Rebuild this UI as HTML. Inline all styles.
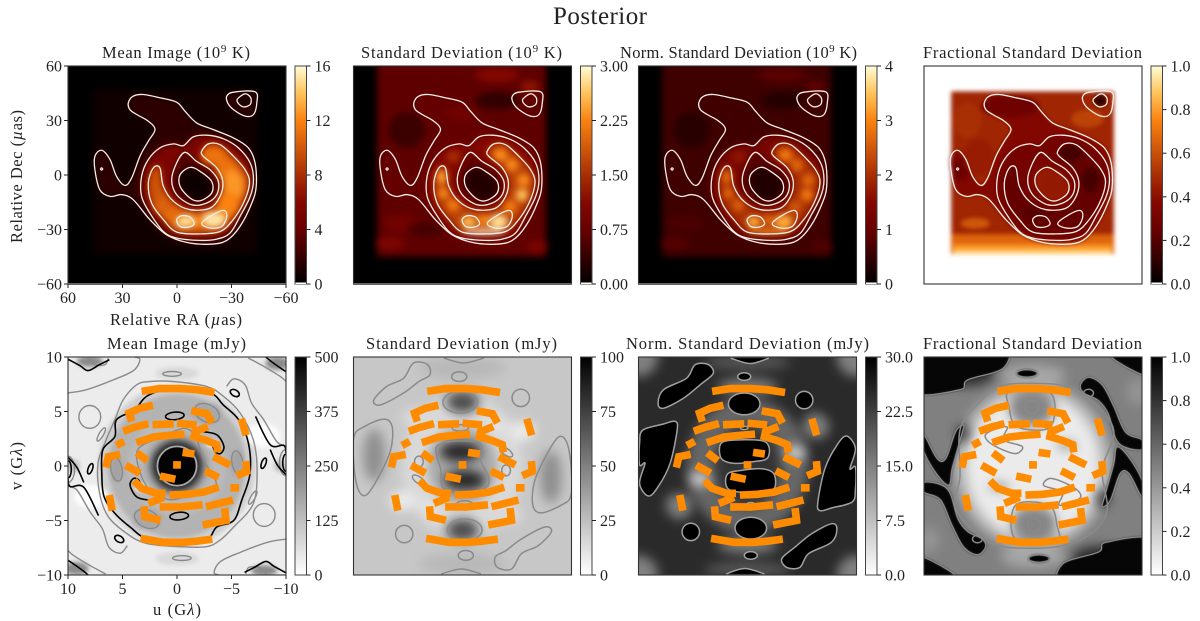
<!DOCTYPE html>
<html lang="en">
<head>
<meta charset="utf-8">
<title>Posterior</title>
<style>
html,body{margin:0;padding:0;background:#fff;}
svg{display:block;font-family:"Liberation Serif",serif;fill:#222;}
text{fill:#222;}
</style>
</head>
<body>
<svg id="figure" xmlns="http://www.w3.org/2000/svg" width="1200" height="621" viewBox="0 0 1200 621">
<defs id="defs">
<filter id="b1" filterUnits="userSpaceOnUse" x="0" y="0" width="1200" height="621" color-interpolation-filters="sRGB"><feGaussianBlur stdDeviation="1"/></filter>
<filter id="b2" filterUnits="userSpaceOnUse" x="0" y="0" width="1200" height="621" color-interpolation-filters="sRGB"><feGaussianBlur stdDeviation="2"/></filter>
<filter id="b3" filterUnits="userSpaceOnUse" x="0" y="0" width="1200" height="621" color-interpolation-filters="sRGB"><feGaussianBlur stdDeviation="3.4"/></filter>
<filter id="b5" filterUnits="userSpaceOnUse" x="0" y="0" width="1200" height="621" color-interpolation-filters="sRGB"><feGaussianBlur stdDeviation="5.5"/></filter>
</defs>
<text x="600" y="24" text-anchor="middle" font-size="25" textLength="94">Posterior</text>
<text x="102" y="58" font-size="16.5" textLength="148">Mean Image (10<tspan font-size="11" dy="-6">9</tspan><tspan dy="6"> K)</tspan></text>
<text x="361" y="58" font-size="16.5" textLength="201">Standard Deviation (10<tspan font-size="11" dy="-6">9</tspan><tspan dy="6"> K)</tspan></text>
<text x="620" y="58" font-size="16.5" textLength="237">Norm. Standard Deviation (10<tspan font-size="11" dy="-6">9</tspan><tspan dy="6"> K)</tspan></text>
<text x="923" y="58" font-size="16.5" textLength="219">Fractional Standard Deviation</text>
<text x="107" y="349" font-size="16.5" textLength="139">Mean Image (mJy)</text>
<text x="366" y="349" font-size="16.5" textLength="191">Standard Deviation (mJy)</text>
<text x="626" y="349" font-size="16.5" textLength="243">Norm. Standard Deviation (mJy)</text>
<text x="923" y="349" font-size="16.5" textLength="219">Fractional Standard Deviation</text>
<text x="110" y="325" font-size="16.5" textLength="132">Relative RA (<tspan font-style="italic">µ</tspan>as)</text>
<text transform="translate(22,243) rotate(-90)" font-size="16.5" textLength="133">Relative Dec (<tspan font-style="italic">µ</tspan>as)</text>
<text x="153" y="615" font-size="16.5" textLength="48">u (G<tspan font-style="italic">λ</tspan>)</text>
<text transform="translate(22,490) rotate(-90)" font-size="16.5" textLength="48">v (G<tspan font-style="italic">λ</tspan>)</text>
</svg>
<script>
/* ---------- axis tick data ---------- */
const imageTicks = [60, 30, 0, -30, -60];
const visibilityTicks = [10, 5, 0, -5, -10];
const colorbarMax = [16, 3, 4, 1, 500, 100, 30, 1];
const colorbarValues = [
  [0, 4, 8, 12, 16], [0, 0.75, 1.5, 2.25, 3], [0, 1, 2, 3, 4], [0, 0.2, 0.4, 0.6, 0.8, 1],
  [0, 125, 250, 375, 500], [0, 25, 50, 75, 100], [0, 7.5, 15, 22.5, 30], [0, 0.2, 0.4, 0.6, 0.8, 1]
];
const colorbarLabels = [
  ['0', '4', '8', '12', '16'], ['0.00', '0.75', '1.50', '2.25', '3.00'], ['0', '1', '2', '3', '4'], ['0.0', '0.2', '0.4', '0.6', '0.8', '1.0'],
  ['0', '125', '250', '375', '500'], ['0', '25', '50', '75', '100'], ['0.0', '7.5', '15.0', '22.5', '30.0'], ['0.0', '0.2', '0.4', '0.6', '0.8', '1.0']
];

/* ---------- image-domain contours (µas) ---------- */
const contourA = [[26.8,39.7],[24.1,43.4],[18.6,44.3],[9.4,42.5],[0.2,40.1],[-4.4,35.1],[-10.8,28.7],[-20,25],[-31.1,20.4],[-39.3,14.9],[-43,6.6],[-43.6,-6.3],[-41.2,-15.4],[-34.7,-28.3],[-27.4,-36],[-18.2,-38.1],[-5.3,-37.1],[5.7,-32.9],[14.9,-24.6],[24.1,-13.6],[30.5,-10.8],[36.9,-11.8],[42.5,-8.1],[45.2,2.9],[45.2,10.3],[41.5,13.6],[36.9,8.5],[33.3,-0.7],[28.7,-5.7],[25,-1.7],[20.4,10.3],[15.8,18.6],[12.1,25],[15.8,29.6],[22.2,33.3],[25.9,36]];
const contourB = [[-3.5,16.2],[2,17.1],[9.4,14.9],[15.8,8.5],[19.5,-0.7],[19.5,-11.8],[14.9,-21],[7.5,-31.1],[0.2,-34.7],[-12.7,-36],[-21.9,-35.3],[-29.2,-32],[-34.7,-22.8],[-40.3,-11.8],[-42.1,-2.6],[-40.3,6.6],[-33.8,14.9],[-25.6,19.9],[-16.4,21.9],[-9,21]];
const contourC = [[-13.6,13.1],[-17.3,17.1],[-23.7,16.7],[-31.1,10.3],[-37.5,2.9],[-39.9,-4.4],[-36.6,-15.4],[-30.1,-25.6],[-23.7,-31.1],[-12.7,-32.4],[0.2,-31.4],[7.5,-24.6],[14,-15.4],[15.8,-4.4],[13,3.9],[9.4,3.9],[7.5,-6.3],[2,-14.5],[-7.2,-19.1],[-18.2,-18.2],[-23.7,-11.8],[-25.2,-3.5],[-21.9,3.9],[-14.5,10.3]];
const contourD = [[-4.4,12.5],[-10.8,7.5],[-18.2,2.9],[-22.8,-3.5],[-21.9,-10.8],[-16.4,-15.4],[-8.1,-16.4],[0.2,-10.8],[2.9,-2.6],[0.2,6.6]];
const contourE = [[-7.2,4.2],[-12.7,2],[-19.1,-3.5],[-19.1,-9.9],[-12.7,-14.2],[-7.2,-12.7],[-1.7,-6.3],[-1.7,0.2]];
const contourF = [[0.2,-24.6],[-2.6,-22.4],[-7.2,-23.2],[-9.4,-26.8],[-6.3,-28.7],[-1.7,-28.3]];
const contourG = [[-13.6,-26.8],[-18.2,-22.8],[-25.6,-19.5],[-27.4,-22.8],[-24.6,-28.3],[-18.2,-29.2]];
const contourH = [[-27.4,43.4],[-31.1,45.6],[-43,45.8],[-43.9,39.7],[-42.1,33.3],[-37.5,32.4],[-31.1,36],[-27.9,39.7]];
const contourI = [[-33.3,41.9],[-37.5,44.7],[-40.6,42.5],[-40.3,38.8],[-36.6,37.5],[-33.5,39.7]];
const contourJ = [[42.1,3.3],[41.5,3.9],[40.9,3.3],[41.5,2.7]];
const imageContours = [contourA, contourB, contourC, contourD, contourE, contourF, contourG, contourH, contourI, contourJ];

/* ---------- image-domain intensity layers: [contour, value] ---------- */
const meanLevels = [[contourA,1.7],[contourB,5.3],[contourC,9.8],[contourD,3],[contourE,0.5],[contourH,1.8],[contourI,1]];
const stdLevels = [[contourA,0.72],[contourB,1.1],[contourC,1.65],[contourD,0.7],[contourE,0.25]];
const normLevels = [[contourA,0.62],[contourB,1.25],[contourC,2.0],[contourD,0.8],[contourE,0.3]];
const fracLevels = [[contourA,0.36],[contourB,0.3],[contourC,0.24],[contourD,0.33],[contourE,0.44]];

/* boxes: [xLeft, xRight, yTop, yBottom, value] */
const meanBoxes = [[46,-44,47,-43,0.6]];
const stdBoxes = [[47,-46,60,-45,0.68]];
const normBoxes = [[47,-46,60,-45,0.6]];
const fracBoxes = [[45,-44.5,46,-43.5,0.47],[45,-44.5,-32.5,-43.5,0.66],[44,-43.5,-38,-43.5,0.78],[44,-43.5,-41,-43.5,0.9]];

/* blobs: [x, y, rx, ry, value] */
const meanBlobs = [[-20,10.3,7,5,11.3],[-27,3,6,6,11.3],[-31,-6,6,9,12.6],[-28,-16,6,7,12],[-20,-24.6,7,4.5,15.2],[-12,-26,3,3,12],[-4.4,-25.5,6,3.8,14.8],[3,-22,5,4,11],[8.5,-17,5,5,10.5],[12,-8,3,7,9.8]];
const stdBlobs = [[-20.8,11,4,3.5,2.3],[-27.2,5.5,3.5,3.5,2.3],[-33.6,-2.8,3.5,3.5,2.3],[-32.7,-11,3.5,3.5,2.6],[-26.3,-17.5,3.5,3.5,2.2],[-19.9,-25.7,5,4,2.8],[-3.3,-25.7,4,3,2.6],[-11.6,-24.8,3,3,2.3],[5,-16.5,3.5,3.5,2.2],[10.5,-10,3,3,2.3],[11.4,-1,3,4,2.4],[5,10,4,3,1.5],[-11.6,-31.3,12,1.4,3],[-19,55,12,4,1.1],[-37,48.7,5,3,1.25],[-19,41,12,5,0.35],[30.7,24.8,10,10,0.42],[1,34,8,4,0.85],[40,-37.7,8,4,1],[-41,-39.5,6,4,0.95],[34,-26.6,10,5,0.85],[20,-30,10,4,0.5]];
const normBlobs = [[-20.8,11,4,3.5,2.9],[-27.2,5.5,3.5,3.5,2.7],[-33.6,-2.8,3.5,3.5,2.7],[-32.7,-11,3.5,3.5,2.9],[-26.3,-17.5,3.5,3.5,2.5],[-19.9,-25.7,5,4,3.3],[-3.3,-25.7,4,3,3.3],[-11.6,-24.8,3,3,2.7],[5,-16.5,3.5,3.5,2.6],[10.5,-10,3,3,2.7],[11.4,-1,3,4,2.7],[5,10,4,3,1.7],[-11.6,-31.3,12,1.4,3.2],[-19,55,14,4,0.85],[-37,48.7,5,3,0.95],[-19,41,12,5,0.35],[30.7,24.8,10,10,0.38],[40,-37.7,8,4,0.8],[-41,-39.5,6,4,0.75],[34,-26.6,10,5,0.7]];
const fracBlobs = [[-20.6,12,6,5,0.17],[-31.6,-2.8,5,7,0.17],[0,-21,6,4,0.21],[-13,-28.5,8,3,0.25],[10.7,-8,5,6,0.24],[12.5,37.7,16,6,0.28],[-11.4,-4.6,7,7,0.43],[-37,41,3.5,3,0.1],[40,3,5,6,0.27],[31.8,-26.6,8,3,0.62],[-30,31,9,5,0.56],[30,10,8,10,0.44],[36,30,8,10,0.5]];

/* ---------- visibility-domain (Gλ) ---------- */
const uvTrack01 = [[2.9,6.9],[1.6,7.1],[-0.3,7.1],[-1.8,7],[-3.1,6.8]];
const uvTrack02 = [[3,-6.7],[1.25,-7],[-0.6,-7],[-1.8,-6.9],[-2.9,-6.75]];
const uvTrack03 = [[4.26,4.4],[4.4,4.85],[3.4,5.3],[2.55,5.5]];
const uvTrack04 = [[4.6,3.3],[3.9,3.55],[2.95,3.8]];
const uvTrack05 = [[1.9,3.8],[0.65,3.85]];
const uvTrack06 = [[-0.35,3.9],[-1.45,3.8]];
const uvTrack07 = [[3.4,2.25],[2.2,2.65],[0.95,2.8],[-0.35,2.9]];
const uvTrack08 = [[-2.5,3.5],[-1.65,3.15],[-1.55,2.7],[-2.7,2.35],[-3.65,1.95],[-3.7,1.6]];
const uvTrack09 = [[-1.65,5],[-2.75,4.8],[-3.05,4.25]];
const uvTrack10 = [[-6,4],[-6.25,3.15]];
const uvTrack11 = [[5.25,2.05],[5.15,2.1]];
const uvTrack12 = [[6.45,0.2],[6.3,0.85],[5.55,1]];
const uvTrack13 = [[3.4,1],[3,0.7]];
const uvTrack14 = [[4.4,-0.1],[3.7,-0.5]];
const uvTrack15 = [[1.2,-1],[0.5,-1.15]];
const uvTrack16 = [[0.01,0.1],[-0.01,0.1]];
const uvTrack17 = [[-0.85,1.2],[-1.25,1.15]];
const uvTrack18 = [[-3.65,0.7],[-4.55,0.25]];
const uvTrack19 = [[-2.9,-0.6],[-3.5,-0.9]];
const uvTrack20 = [[-5.8,-0.75],[-6.4,-0.5],[-6.35,0.1]];
const uvTrack21 = [[-5.25,-2],[-5.35,-2]];
const uvTrack22 = [[3.7,-1.6],[3.25,-2.05],[1.9,-2.5],[1.4,-2.5]];
const uvTrack23 = [[2.3,-3.3],[1.55,-3]];
const uvTrack24 = [[0.35,-2.65],[-0.9,-2.6],[-2.4,-2.4],[-3.5,-2.05]];
const uvTrack25 = [[1.25,-3.75],[0.2,-3.75]];
const uvTrack26 = [[-0.45,-3.75],[-2,-3.6]];
const uvTrack27 = [[-3,-3.65],[-4.8,-3.2]];
const uvTrack28 = [[-4.4,-4.2],[-4.5,-5],[-2.7,-5.35]];
const uvTrack29 = [[3,-4.05],[2.95,-4.65],[1.85,-4.9]];
const uvTrack30 = [[6.15,-3],[6,-3.75]];
const uvTracks = [uvTrack01,uvTrack02,uvTrack03,uvTrack04,uvTrack05,uvTrack06,uvTrack07,uvTrack08,uvTrack09,uvTrack10,uvTrack11,uvTrack12,uvTrack13,uvTrack14,uvTrack15,uvTrack16,uvTrack17,uvTrack18,uvTrack19,uvTrack20,uvTrack21,uvTrack22,uvTrack23,uvTrack24,uvTrack25,uvTrack26,uvTrack27,uvTrack28,uvTrack29,uvTrack30];

/* Panel 5: mean amplitude */
const meanVisBase = 38;
const meanVisBlobs = [[0,0,7.2,7.4,95],[0,0,6.3,6.6,150],[0,0,4.5,4.6,135],[0,0,3.1,3.1,165],[0,0,2.6,2.6,270],[0,0,2.2,2.2,400],[-2.75,4.85,1.4,1,170],[-5.55,0.3,0.6,1.2,180],[7.9,-2.8,1.6,1.1,6],[-3.3,2,0.6,0.3,0],[0,8.5,2,0.6,75],[9.5,0,0.6,0.6,120],[8,9.6,1.2,0.5,230],[9.2,-9.4,1.1,0.6,230]];
const meanBlackLoop = [[2.6,6.5],[3.9,5.15],[5.55,4.25],[5.7,2.7],[6.8,1.5],[6.9,-0.7],[6.7,-2.8],[5.7,-4.35],[4.3,-5.6],[2.8,-6.65],[0,-7],[-2.7,-6.75],[-3.65,-5.6],[-5.2,-5],[-5.95,-3.1],[-6.7,-0.7],[-6.55,2.1],[-5.65,4.25],[-4.25,5.6],[-3.1,6.7],[-0.3,7.3]];
const meanGrayLoop = [[3.7,7.45],[4.95,6.05],[5.7,4.25],[6.5,2.4],[7.25,0.25],[7.1,-2.5],[6.3,-4.65],[4.6,-6.2],[2.8,-7.1],[-0.3,-7.4],[-2.7,-7.4],[-3.95,-6.8],[-5.2,-5.6],[-7,-3.45],[-7.35,-0.35],[-7,2.4],[-5.8,4.85],[-4.25,6.4],[-2.7,7.3],[0.35,7.75],[2.5,7.75]];
const meanDiamondLoop = [[3.6,1.5],[1.5,2.6],[-0.6,3.45],[-1.7,2.7],[-2.45,0.55],[-3.6,-1.8],[-1.5,-2.5],[0.6,-3.1],[2.45,-2.2],[3.35,-0.7]];
const meanKidneyLoop = [[-2.45,3.15],[-3.67,2.85],[-4.3,1.8],[-4,1.15],[-3.5,1.3],[-3.2,1.9],[-2.3,2.4]];
const meanGrayEllipses = [[8,4.5,1,1.05,0],[-2.75,4.85,1.2,0.8,25],[0.45,8.45,0.85,0.22,0],[6.95,2.9,0.7,0.2,-60],[-5.55,0.3,0.5,1.1,-10],[-10,0.3,0.6,1.2,0]];
const meanBlackEllipses = [[0.2,4.6,0.85,0.35,-5],[-5.3,6.7,0.45,0.28,30],[-7.95,0.25,0.5,0.2,-70],[-10,0.3,0.3,0.8,0]];
const meanGrayOpen = [
  [[10,6.7],[8.3,7],[5.85,7.9],[4,8.75],[3.4,9.75],[3.85,10]],
  [[-6.55,9.9],[-7.95,9.15],[-9.5,8.2],[-10,7.75]],
  [[-4.55,7.3],[-5.2,8],[-6.25,7.45],[-6.85,5.75],[-7.95,4.25],[-9.15,2.25],[-10,1.8]],
  [[8.2,9.9],[7.6,9.3],[6.6,9.3],[6.3,9.9]]
];
const meanBlackOpen = [
  [[-7.2,4.55],[-8.55,1.95],[-9.8,1.9],[-10,1.2]],
  [[-10,-0.8],[-9.2,0.1],[-8.55,1.5]],
  [[10,9.8],[8.9,9.2],[8.15,8.75],[7.1,9.3],[6.2,9.75]],
  [[10,-8.65],[8.9,-9.4],[8.15,-10]]
];

/* Panel 6: standard deviation */
const stdVisBase = 22;
const stdVisBlobs = [[0,0,5.6,6.6,15],[0,0,3.2,3.6,34],[0.2,1.3,1.9,0.9,85],[0,5.85,1.5,1,70],[8.1,1,1,2.4,44],[5.5,-3.2,1.2,0.9,8],[3.2,-3.8,0.9,0.5,9],[0,9,4,1,28],[4.5,4.5,1,0.8,14]];
const stdVisLoopClosed = [[2.35,1.8],[1.1,2.25],[-1.05,2.25],[-1.8,1.8],[-1.65,0.55],[-2.4,-1],[-2.25,-1.9],[-1.05,-2.35],[0.8,-2.35],[1.85,-1.9],[2,-0.35],[2.35,0.85]];
const stdVisEllipses = [[0.2,5.85,1.6,1,0],[0.3,8.2,0.7,0.45,0],[0.2,3.5,0.75,0.3,0],[-5.35,6.25,0.8,0.8,0],[4,-1.3,0.7,0.3,35],[4,0.4,0.4,0.5,0]];
const stdVisLoopsMirrored = [
  [[9.95,2.7],[9.05,3.6],[7.2,4.3],[6.45,3.6],[6.6,1.45],[7.7,-1],[8.8,-2.65],[9.55,-2.2],[9.95,-0.05]],
  [[8.15,6.05],[6.95,7.3],[5.4,8.05],[4.5,9.45],[3.2,9.3],[3,8.35],[4,7.75],[5.4,6.7],[7.55,5.6]]
];
const stdVisOpen = [[[1.7,9.9],[-0.1,9.45],[-1.95,9.9]]];

/* Panel 7: normalised standard deviation */
const normVisBase = 25;
const normVisBlobs = [[0,0,5.6,6.2,18],[0,0,3,3.8,24],[4.4,-1.2,1,0.7,6],[-4.4,1.2,1,0.7,6],[6.4,-3.6,1.1,1.1,15],[-6.2,3.7,1.1,1.2,15],[0,7.3,2.8,0.7,15],[10,10,1.8,1.8,15],[10,-10,1.8,1.8,15],[0,9.5,4,0.7,20]];
const normVisFilled = [
  [[2.5,1.95],[1.6,2.35],[-1.15,2.35],[-1.95,1.8],[-1.8,0.7],[-0.55,0.4],[1.3,0.25],[2.4,0.7]],
  [[9.9,2.1],[9.6,3.3],[7.7,3.85],[6.65,4.1],[6.45,3.35],[7.1,0.25],[8.2,-1.9],[9.1,-2.75],[9.9,-1.6],[9.4,0.25],[9.9,0.1]],
  [[8.2,5.75],[7.7,7],[5.6,8.05],[4.8,9.3],[3.6,9.3],[3.15,8.5],[4.35,7.45],[5.9,6.2],[7.7,5.3]]
];
const normVisFilledEllipses = [[0.3,5.7,1.45,1,0],[0.3,8.2,0.6,0.35,0],[0.3,3.5,0.35,0.15,0],[-5.2,6.05,0.8,0.8,0]];
const normVisOpen = [[[1.55,9.9],[-0.25,9.4],[-1.95,9.9]]];

/* Panel 8: fractional standard deviation */
const fracVisBase = 0.5;
const fracVisBlobs = [[0,0,7.2,7.6,0.28],[0,0,6.1,6.7,0.08],[0.1,5.3,2.1,1.7,0.48],[-3.1,1.9,0.9,0.3,0.5],[6,8.5,2.4,1.2,0.82],[6.4,3,0.7,0.9,0.72],[0,8.3,3,1,0.35],[9.6,-6.8,1,1.2,0.42]];
const fracVisDark = [
  [[-4.35,7.45],[-5.1,8.15],[-6.35,7.45],[-7.4,5.5],[-8.5,3.1],[-10,2.4],[-10,1.5],[-8.5,1.7],[-7.6,2.5],[-6.9,4.8],[-6,6],[-4.65,6.7]],
  [[-7.7,1.75],[-8.8,0.8],[-10,-1.3],[-10,-2.85],[-8.8,-0.7],[-8,-0.7],[-7.1,-3.15],[-6.35,-3.75],[-6.55,-2.85],[-7.4,0.2]],
  [[11,11],[3,11],[2.7,9],[6,7.9],[6.7,7],[11,6.8]],
  [[-6.8,11],[-11,11],[-11,8.2],[-7.7,9.6]]
];
const fracVisDarkEllipses = [[0.55,8.5,0.95,0.35,0]];
const fracVisLoopClosed = [[3,7.3],[5.15,5.6],[6.7,3.3],[6.7,-1],[7.15,-3.75],[5.15,-6.2],[2.7,-7.4],[-2.2,-7.4],[-5.3,-6.2],[-6.8,-4.05],[-6.35,-0.35],[-7.4,3.3],[-5.3,6.05],[-3.1,7.3],[-0.05,7.6]];
const fracVisLoopsMirrored = [
  [[2.1,6.85],[2.2,5.45],[1.45,3.6],[-1.6,3.6],[-1.6,6.7]],
  [[4.25,3],[2.4,3.6],[2.7,2.4],[1,1.8],[1.5,1.15],[2.7,1.45],[4.1,2.25]]
];
const fracVisEllipses = [[-5.1,6.7,0.45,0.35,25],[0.1,5.4,0.6,0.6,0]];

/* ---------- layout + scales ---------- */
const NS = 'http://www.w3.org/2000/svg';
const svg = document.getElementById('figure');
const defs = document.getElementById('defs');
const colX = [68, 353.5, 638.5, 924];
const rowY = [66, 357];
const SIZE = 218;
const barOffset = 227, barWidth = 11.5;

function axisX(col, v, span) { return colX[col] + (span - v) / (2 * span) * SIZE; }
function axisY(row, v, span) { return rowY[row] + (span - v) / (2 * span) * SIZE; }
function hex(n) { const s = Math.round(Math.max(0, Math.min(1, n)) * 255).toString(16); return s.length < 2 ? '0' + s : s; }
/* piecewise heat colour scale with a pale-yellow top, as in the reference colorbar */
const heatStops = [[0,0,0,0],[0.25,105,0,0],[0.375,132,8,0],[0.5,168,46,4],[0.75,250,130,16],[0.875,255,195,90],[1,255,252,215]];
function heatColor(t) {
  t = Math.max(0, Math.min(1, t));
  for (let i = 1; i < heatStops.length; i++) {
    const a = heatStops[i - 1], b = heatStops[i];
    if (t <= b[0]) {
      const f = (t - a[0]) / (b[0] - a[0]);
      return '#' + hex((a[1] + f * (b[1] - a[1])) / 255) + hex((a[2] + f * (b[2] - a[2])) / 255) + hex((a[3] + f * (b[3] - a[3])) / 255);
    }
  }
  return '#fffcd7';
}
function grayColor(t) { return '#' + hex(1 - t) + hex(1 - t) + hex(1 - t); }

function make(tag, parent, name) {
  const el = document.createElementNS(NS, tag);
  
  
  parent.appendChild(el);
  return el;
}
function smoothPath(col, row, span, pts, closed, sign) {
  const P = pts.map(p => [axisX(col, sign * p[0], span), axisY(row, sign * p[1], span)]);
  const n = P.length, at = i => closed ? P[(i + n) % n] : P[Math.max(0, Math.min(n - 1, i))];
  let d = 'M' + P[0][0].toFixed(1) + ' ' + P[0][1].toFixed(1);
  const last = closed ? n : n - 1;
  for (let i = 0; i < last; i++) {
    const a = at(i - 1), b = at(i), c = at(i + 1), e = at(i + 2);
    d += 'C' + (b[0] + (c[0] - a[0]) / 6).toFixed(1) + ' ' + (b[1] + (c[1] - a[1]) / 6).toFixed(1) + ' ' +
         (c[0] - (e[0] - b[0]) / 6).toFixed(1) + ' ' + (c[1] - (e[1] - b[1]) / 6).toFixed(1) + ' ' +
         c[0].toFixed(1) + ' ' + c[1].toFixed(1);
  }
  return d + (closed ? 'Z' : '');
}
function drawPath(g, col, row, span, pts, closed, sign, fill, stroke, width, name) {
  const p = make('path', g, name);
  p.setAttribute('d', smoothPath(col, row, span, pts, closed, sign));
  p.setAttribute('fill', fill);
  p.setAttribute('stroke', stroke);
  p.setAttribute('stroke-width', width);
}
function drawEllipse(g, col, row, span, e, sign, fill, stroke, width, name) {
  const el = make('ellipse', g, name);
  const cx = axisX(col, sign * e[0], span), cy = axisY(row, sign * e[1], span);
  const k = SIZE / (2 * span);
  el.setAttribute('cx', cx.toFixed(1));
  el.setAttribute('cy', cy.toFixed(1));
  el.setAttribute('rx', (e[2] * k).toFixed(1));
  el.setAttribute('ry', (e[3] * k).toFixed(1));
  el.setAttribute('fill', fill);
  el.setAttribute('stroke', stroke);
  el.setAttribute('stroke-width', width);
  return el;
}
function panelGroup(col, row) {
  const id = 'clip' + col + row;
  const cp = make('clipPath', defs, 'panel-clip');
  cp.setAttribute('id', id);
  const r = make('rect', cp, 'panel-clip-rect');
  r.setAttribute('x', colX[col]); r.setAttribute('y', rowY[row]);
  r.setAttribute('width', SIZE); r.setAttribute('height', SIZE);
  const g = make('g', svg, 'panel-' + (row * 4 + col + 1));
  g.setAttribute('clip-path', 'url(#' + id + ')');
  return g;
}
function baseRect(g, col, row, color) {
  const r = make('rect', g, 'image-background');
  r.setAttribute('x', colX[col] - 30); r.setAttribute('y', rowY[row] - 30);
  r.setAttribute('width', SIZE + 60); r.setAttribute('height', SIZE + 60);
  r.setAttribute('fill', color);
}
function frame(col, row) {
  const r = make('rect', svg, 'panel-frame');
  r.setAttribute('x', colX[col]); r.setAttribute('y', rowY[row]);
  r.setAttribute('width', SIZE); r.setAttribute('height', SIZE);
  r.setAttribute('fill', 'none'); r.setAttribute('stroke', '#333'); r.setAttribute('stroke-width', '1.1');
  if (row === 0 && col < 3) {
    const l = make('line', svg, 'panel-bottom-edge');
    l.setAttribute('x1', colX[col]); l.setAttribute('x2', colX[col] + SIZE);
    l.setAttribute('y1', rowY[row] + SIZE); l.setAttribute('y2', rowY[row] + SIZE);
    l.setAttribute('stroke', '#666'); l.setAttribute('stroke-width', '2');
  }
}
function tickLine(x1, y1, x2, y2, name) {
  const l = make('line', svg, name);
  l.setAttribute('x1', x1); l.setAttribute('y1', y1);
  l.setAttribute('x2', x2); l.setAttribute('y2', y2);
  l.setAttribute('stroke', '#222'); l.setAttribute('stroke-width', '1');
}
function tickText(x, y, s, anchor, name) {
  const t = make('text', svg, name);
  t.setAttribute('x', x); t.setAttribute('y', y);
  t.setAttribute('text-anchor', anchor);
  t.setAttribute('font-size', '16');
  t.textContent = s;
}
function fmt(v) { return v < 0 ? '\u2212' + (-v) : String(v); }

/* ---------- image panels ---------- */
function imagePanel(col, levels, boxes, blobs, baseValue, blurId) {
  const max = colorbarMax[col];
  const g = panelGroup(col, 0);
  const field = make('g', g, 'brightness-map');
  field.setAttribute('filter', 'url(#' + blurId + ')');
  baseRect(field, col, 0, baseValue === max ? '#ffffff' : heatColor(baseValue / max));
  boxes.forEach(b => {
    const r = make('rect', field, 'brightness-box');
    const x0 = axisX(col, b[0], 60), x1 = axisX(col, b[1], 60), y0 = b[2] >= 60 ? rowY[0] - 30 : axisY(0, b[2], 60), y1 = axisY(0, b[3], 60);
    r.setAttribute('x', x0); r.setAttribute('y', y0);
    r.setAttribute('width', x1 - x0); r.setAttribute('height', y1 - y0);
    r.setAttribute('fill', heatColor(b[4] / max));
  });
  levels.forEach(l => drawPath(field, col, 0, 60, l[0], true, 1, heatColor(l[1] / max), 'none', 0, 'brightness-level'));
  blobs.forEach(b => drawEllipse(field, col, 0, 60, b, 1, heatColor(b[4] / max), 'none', 0, 'brightness-blob'));
  imageContours.forEach(c => drawPath(g, col, 0, 60, c, true, 1, 'none', '#f4efe8', 1.3, 'image-contour'));
  frame(col, 0);
}
imagePanel(0, meanLevels, meanBoxes, meanBlobs, 0, 'b3');
imagePanel(1, stdLevels, stdBoxes, stdBlobs, 0, 'b3');
imagePanel(2, normLevels, normBoxes, normBlobs, 0, 'b3');
imagePanel(3, fracLevels, fracBoxes, fracBlobs, 1, 'b2');

/* ---------- visibility panels ---------- */
function bothSigns(fn) { fn(1); fn(-1); }
function drawTracks(g, col) {
  uvTracks.forEach(t => {
    const p = make('polyline', g, 'uv-coverage-track');
    p.setAttribute('points', t.map(q => axisX(col, q[0], 10).toFixed(1) + ',' + axisY(1, q[1], 10).toFixed(1)).join(' '));
    p.setAttribute('fill', 'none');
    p.setAttribute('stroke', '#ff8c00');
    p.setAttribute('stroke-width', '7.6');
    p.setAttribute('stroke-linejoin', 'miter');
    p.setAttribute('stroke-linecap', 'square');
  });
}
function visField(g, col, base, blobs, blurId) {
  const max = colorbarMax[col + 4];
  const field = make('g', g, 'visibility-map');
  field.setAttribute('filter', 'url(#' + blurId + ')');
  baseRect(field, col, 1, grayColor(base / max));
  blobs.forEach(b => bothSigns(s => drawEllipse(field, col, 1, 10, b, s, grayColor(b[4] / max), 'none', 0, 'visibility-blob')));
}
const GRAY = '#8a8a8a';

/* panel 5 */
(function () {
  const g = panelGroup(0, 1);
  visField(g, 0, meanVisBase, meanVisBlobs, 'b2');
  const disc = drawEllipse(g, 0, 1, 10, [0, 0, 1.8, 1.8], 1, '#000', '#a9a9a9', 1.8, 'central-peak');
  disc.setAttribute('fill', '#030303');
  drawPath(g, 0, 1, 10, meanDiamondLoop, true, 1, 'none', GRAY, 1.4, 'gray-contour');
  drawPath(g, 0, 1, 10, meanGrayLoop, true, 1, 'none', GRAY, 1.4, 'gray-contour');
  drawPath(g, 0, 1, 10, meanBlackLoop, true, 1, 'none', '#000', 1.6, 'black-contour');
  bothSigns(s => {
    meanGrayEllipses.forEach(e => drawEllipse(g, 0, 1, 10, e, s, 'none', GRAY, 1.4, 'gray-contour-loop').setAttribute('transform', 'rotate(' + e[4] + ' ' + axisX(0, s * e[0], 10) + ' ' + axisY(1, s * e[1], 10) + ')'));
    meanBlackEllipses.forEach(e => drawEllipse(g, 0, 1, 10, e, s, 'none', '#000', 1.6, 'black-contour-loop').setAttribute('transform', 'rotate(' + e[4] + ' ' + axisX(0, s * e[0], 10) + ' ' + axisY(1, s * e[1], 10) + ')'));
    meanGrayOpen.forEach(c => drawPath(g, 0, 1, 10, c, false, s, 'none', GRAY, 1.4, 'gray-contour'));
    meanBlackOpen.forEach(c => drawPath(g, 0, 1, 10, c, false, s, 'none', '#000', 1.6, 'black-contour'));
    drawPath(g, 0, 1, 10, meanKidneyLoop, false, s, 'none', '#000', 1.6, 'black-contour');
  });
  drawTracks(g, 0);
  frame(0, 1);
})();

/* panel 6 */
(function () {
  const g = panelGroup(1, 1);
  visField(g, 1, stdVisBase, stdVisBlobs, 'b5');
  drawPath(g, 1, 1, 10, stdVisLoopClosed, true, 1, 'none', GRAY, 1.5, 'gray-contour');
  bothSigns(s => {
    stdVisEllipses.forEach(e => drawEllipse(g, 1, 1, 10, e, s, 'none', GRAY, 1.5, 'gray-contour-loop').setAttribute('transform', 'rotate(' + e[4] + ' ' + axisX(1, s * e[0], 10) + ' ' + axisY(1, s * e[1], 10) + ')'));
    stdVisLoopsMirrored.forEach(c => drawPath(g, 1, 1, 10, c, true, s, 'none', GRAY, 1.5, 'gray-contour'));
    stdVisOpen.forEach(c => drawPath(g, 1, 1, 10, c, false, s, 'none', GRAY, 1.5, 'gray-contour'));
  });
  drawTracks(g, 1);
  frame(1, 1);
})();

/* panel 7 */
(function () {
  const g = panelGroup(2, 1);
  visField(g, 2, normVisBase, normVisBlobs, 'b5');
  bothSigns(s => {
    normVisFilled.forEach(c => drawPath(g, 2, 1, 10, c, true, s, '#000', '#a0a0a0', 1.5, 'saturated-region'));
    normVisFilledEllipses.forEach(e => drawEllipse(g, 2, 1, 10, e, s, '#000', '#a0a0a0', 1.5, 'saturated-region'));
    normVisOpen.forEach(c => drawPath(g, 2, 1, 10, c, false, s, '#000', '#a0a0a0', 1.5, 'saturated-region'));
  });
  drawTracks(g, 2);
  frame(2, 1);
})();

/* panel 8 */
(function () {
  const g = panelGroup(3, 1);
  visField(g, 3, fracVisBase, fracVisBlobs, 'b5');
  const dark = make('g', g, 'saturated-areas');
  dark.setAttribute('filter', 'url(#b1)');
  bothSigns(s => {
    fracVisDark.forEach(c => drawPath(dark, 3, 1, 10, c, true, s, '#060606', 'none', 0, 'saturated-area'));
    fracVisDarkEllipses.forEach(e => drawEllipse(dark, 3, 1, 10, e, s, '#000', 'none', 0, 'saturated-area'));
  });
  drawPath(g, 3, 1, 10, fracVisLoopClosed, true, 1, 'none', GRAY, 1.5, 'gray-contour');
  bothSigns(s => {
    fracVisLoopsMirrored.forEach(c => drawPath(g, 3, 1, 10, c, true, s, 'none', GRAY, 1.5, 'gray-contour'));
    fracVisEllipses.forEach(e => drawEllipse(g, 3, 1, 10, e, s, 'none', GRAY, 1.5, 'gray-contour-loop'));
    fracVisDark.forEach(c => drawPath(g, 3, 1, 10, c, true, s, 'none', GRAY, 1.3, 'gray-contour'));
    fracVisDarkEllipses.forEach(e => drawEllipse(g, 3, 1, 10, e, s, 'none', GRAY, 1.3, 'gray-contour-loop'));
  });
  drawTracks(g, 3);
  frame(3, 1);
})();

/* ---------- axes ---------- */
imageTicks.forEach(v => {
  const x = axisX(0, v, 60), y = axisY(0, v, 60);
  tickLine(x, rowY[0] + SIZE, x, rowY[0] + SIZE + 4, 'x-tick');
  tickLine(colX[0], y, colX[0] - 4, y, 'y-tick');
  tickText(x, 303, fmt(v), 'middle', 'x-tick-label');
  tickText(62, y + 5.5, fmt(v), 'end', 'y-tick-label');
});
visibilityTicks.forEach(v => {
  const x = axisX(0, v, 10), y = axisY(1, v, 10);
  tickLine(x, rowY[1] + SIZE, x, rowY[1] + SIZE + 4, 'x-tick');
  tickLine(colX[0], y, colX[0] - 4, y, 'y-tick');
  tickText(x, 594, fmt(v), 'middle', 'x-tick-label');
  tickText(62, y + 5.5, fmt(v), 'end', 'y-tick-label');
});

/* ---------- colorbars ---------- */
colorbarMax.forEach((max, i) => {
  const row = i < 4 ? 0 : 1, col = i % 4;
  const x = colX[col] + barOffset, y = rowY[row];
  const cm = row === 0 ? heatColor : grayColor;
  const grad = make('linearGradient', defs, 'colorbar-gradient');
  grad.setAttribute('id', 'cb' + i);
  grad.setAttribute('x1', '0'); grad.setAttribute('y1', '1');
  grad.setAttribute('x2', '0'); grad.setAttribute('y2', '0');
  for (let k = 0; k <= 32; k++) {
    const st = make('stop', grad, 'colorbar-stop');
    st.setAttribute('offset', k / 32);
    st.setAttribute('stop-color', cm(k / 32));
  }
  const r = make('rect', svg, 'colorbar');
  r.setAttribute('x', x); r.setAttribute('y', y);
  r.setAttribute('width', barWidth); r.setAttribute('height', SIZE);
  r.setAttribute('fill', 'url(#cb' + i + ')');
  r.setAttribute('stroke', '#444'); r.setAttribute('stroke-width', '1');
  if (row === 0) {
    const w = make('rect', svg, 'colorbar-zero-stripe');
    w.setAttribute('x', x + 0.5); w.setAttribute('y', y + SIZE - 1.5);
    w.setAttribute('width', barWidth - 1); w.setAttribute('height', 1.5);
    w.setAttribute('fill', '#fff');
  }
  colorbarValues[i].forEach((v, k) => {
    const ty = y + SIZE - v / max * SIZE;
    tickLine(x + barWidth, ty, x + barWidth + 4, ty, 'colorbar-tick');
    tickText(x + barWidth + 8, ty + 5.5, colorbarLabels[i][k], 'start', 'colorbar-tick-label');
  });
});
</script>
</body>
</html>
